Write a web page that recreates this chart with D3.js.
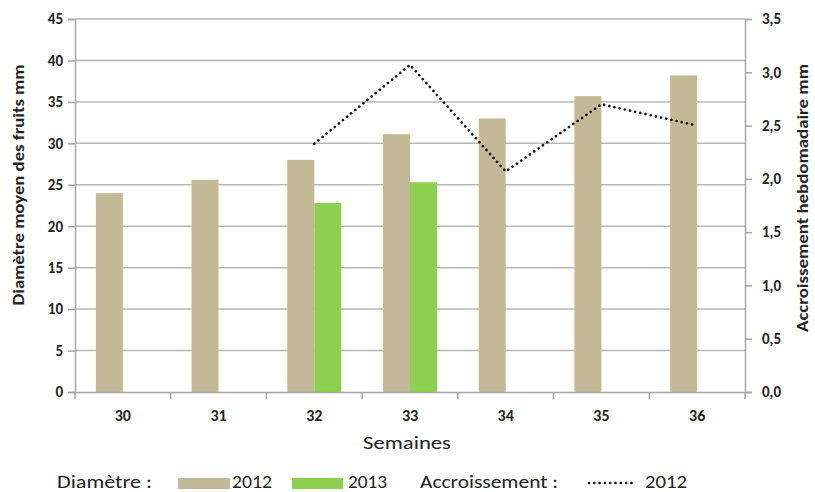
<!DOCTYPE html>
<html><head>
<meta charset="utf-8">
<script src="https://d3js.org/d3.v7.min.js"></script>
<style>
  body { margin: 0; background: #fff; }
  text { font-family: Carlito, "Liberation Sans Narrow", Lato, "Open Sans", sans-serif; fill: #222; }
</style>
</head>
<body>
<div id="container"></div>
<script>
// data
const weeks = ["30", "31", "32", "33", "34", "35", "36"];
const diam2012 = [24.0, 25.6, 28.0, 31.1, 33.0, 35.7, 38.2];
const diam2013 = [null, null, 22.8, 25.3, null, null, null];
const accr2012 = [null, null, 2.33, 3.07, 2.07, 2.70, 2.50];
const leftTicks = [0, 5, 10, 15, 20, 25, 30, 35, 40, 45];
const rightTicks = [0, 0.5, 1, 1.5, 2, 2.5, 3, 3.5];

const width = 815, height = 492;
const x0 = 75, x1 = 745, yTop = 19, yBot = 392;

const svg = d3.select("#container").append("svg")
  .attr("width", width).attr("height", height);

const xScale = d3.scaleBand().domain(weeks).range([x0, x1]).padding(0);
const barW = 27;
const yLeft = d3.scaleLinear().domain([0, 45]).range([yBot, yTop]);
const yRight = d3.scaleLinear().domain([0, 3.5]).range([yBot, yTop]);

const tan = "#c4b996", green = "#8dcf4e", axisGrey = "#a6a6a6";

// gridlines
svg.append("g").selectAll("line").data(leftTicks.filter(d => d > 0))
  .join("line")
  .attr("x1", x0).attr("x2", x1)
  .attr("y1", d => yLeft(d)).attr("y2", d => yLeft(d))
  .attr("stroke", "#b8b8b8").attr("stroke-width", 1.5);

// bars 2012
svg.append("g").selectAll("rect").data(weeks.map((w, i) => ({ w, v: diam2012[i] })))
  .join("rect")
  .attr("x", d => xScale(d.w) + xScale.bandwidth() / 2 - barW)
  .attr("y", d => yLeft(d.v))
  .attr("width", barW)
  .attr("height", d => yBot - yLeft(d.v))
  .attr("fill", tan);

// bars 2013
svg.append("g").selectAll("rect").data(weeks.map((w, i) => ({ w, v: diam2013[i] })).filter(d => d.v != null))
  .join("rect")
  .attr("x", d => xScale(d.w) + xScale.bandwidth() / 2)
  .attr("y", d => yLeft(d.v))
  .attr("width", barW)
  .attr("height", d => yBot - yLeft(d.v))
  .attr("fill", green);

// left axis
const yAxisL = d3.axisLeft(yLeft).tickValues(leftTicks).tickSize(7).tickPadding(5).tickFormat(d3.format("d"));
const gL = svg.append("g").attr("transform", "translate(" + x0 + ",0)").call(yAxisL);
gL.select(".domain").attr("stroke", axisGrey).attr("stroke-width", 1.5);
gL.selectAll(".tick line").attr("stroke", axisGrey).attr("stroke-width", 1.5);
gL.selectAll(".tick text").style("font-size", "15px").style("font-weight", "bold").attr("fill", "#333");

// right axis
const yAxisR = d3.axisRight(yRight).tickValues(rightTicks).tickSize(7).tickPadding(10)
  .tickFormat(d => d3.format(".1f")(d).replace(".", ","));
const gR = svg.append("g").attr("transform", "translate(" + x1 + ",0)").call(yAxisR);
gR.select(".domain").attr("stroke", axisGrey).attr("stroke-width", 1.5);
gR.selectAll(".tick line").attr("stroke", axisGrey).attr("stroke-width", 1.5);
gR.selectAll(".tick text").style("font-size", "15px").style("font-weight", "bold").attr("fill", "#333");

// bottom axis
const xAxis = d3.axisBottom(xScale).tickSize(0).tickPadding(18);
const gX = svg.append("g").attr("transform", "translate(0," + yBot + ")").call(xAxis);
gX.select(".domain").attr("stroke", axisGrey).attr("stroke-width", 1.5);
gX.selectAll(".tick text").style("font-size", "16px").style("font-weight", "bold").attr("fill", "#333");
// tick marks on band boundaries
svg.append("g").selectAll("line").data(weeks.concat(["end"]))
  .join("line")
  .attr("x1", (d, i) => x0 + i * xScale.step()).attr("x2", (d, i) => x0 + i * xScale.step())
  .attr("y1", yBot).attr("y2", yBot + 7)
  .attr("stroke", axisGrey).attr("stroke-width", 1.5);

// line: accroissement 2012
const linePts = weeks.map((w, i) => ({ w, v: accr2012[i] })).filter(d => d.v != null);
svg.append("path").datum(linePts)
  .attr("fill", "none")
  .attr("stroke", "#111")
  .attr("stroke-width", 2.6)
  .attr("stroke-dasharray", "0.1,5.2")
  .attr("stroke-linecap", "round")
  .attr("d", d3.line().x(d => xScale(d.w) + xScale.bandwidth() / 2).y(d => yRight(d.v)));

// axis titles
svg.append("text")
  .attr("transform", "translate(20,185) rotate(-90)")
  .attr("text-anchor", "middle").attr("dominant-baseline", "middle")
  .attr("textLength", 241).attr("lengthAdjust", "spacingAndGlyphs")
  .style("font-size", "16px").style("font-weight", "bold")
  .text("Diamètre moyen des fruits mm");
svg.append("text")
  .attr("transform", "translate(804,198) rotate(-90)")
  .attr("text-anchor", "middle").attr("dominant-baseline", "middle")
  .attr("textLength", 268).attr("lengthAdjust", "spacingAndGlyphs")
  .style("font-size", "16px").style("font-weight", "bold")
  .text("Accroissement hebdomadaire mm");
svg.append("text")
  .attr("x", 407).attr("y", 449)
  .attr("text-anchor", "middle")
  .attr("textLength", 88).attr("lengthAdjust", "spacingAndGlyphs")
  .style("font-size", "18px")
  .text("Semaines");

// legend
const lg = svg.append("g").style("font-size", "18px");
const legendTexts = [
  { t: "Diamètre :", x: 57, w: 95 },
  { t: "2012", x: 232, w: 40 },
  { t: "2013", x: 348, w: 39 },
  { t: "Accroissement :", x: 420, w: 138 },
  { t: "2012", x: 645, w: 42 }
];
lg.selectAll("text").data(legendTexts).join("text")
  .attr("x", d => d.x).attr("y", 488)
  .attr("textLength", d => d.w).attr("lengthAdjust", "spacingAndGlyphs")
  .text(d => d.t);
lg.append("rect").attr("x", 178).attr("y", 478).attr("width", 52).attr("height", 11).attr("fill", tan);
lg.append("rect").attr("x", 292).attr("y", 478).attr("width", 51).attr("height", 11).attr("fill", green);
lg.append("line").attr("x1", 589).attr("x2", 634).attr("y1", 483).attr("y2", 483)
  .attr("stroke", "#111").attr("stroke-width", 2.6)
  .attr("stroke-dasharray", "0.1,5.2").attr("stroke-linecap", "round");
</script>
</body>
</html>
